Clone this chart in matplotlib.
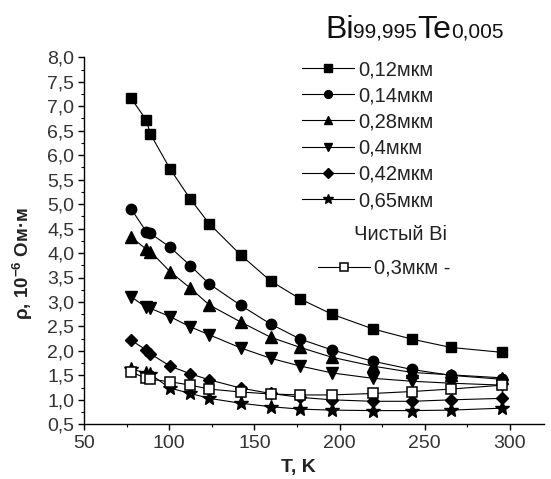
import matplotlib
matplotlib.use("Agg")
import matplotlib.pyplot as plt
from matplotlib.ticker import MultipleLocator, FuncFormatter

plt.rcParams['font.family'] = ['Liberation Sans', 'DejaVu Sans']
plt.rcParams['mathtext.fontset'] = 'custom'
plt.rcParams['mathtext.rm'] = 'Liberation Sans'
plt.rcParams['mathtext.bf'] = 'Liberation Sans:bold'

# ---- data ----
T = [77.5, 86.5, 89, 100.5, 112.5, 123.5, 142, 159.5, 177, 195.5, 219.5, 242.5, 265.5, 295.5]
rho_012 = [7.17, 6.72, 6.43, 5.72, 5.10, 4.60, 3.96, 3.43, 3.06, 2.75, 2.45, 2.24, 2.07, 1.97]
rho_014 = [4.91, 4.44, 4.40, 4.12, 3.74, 3.37, 2.93, 2.55, 2.24, 2.02, 1.79, 1.62, 1.50, 1.42]
rho_028 = [4.33, 4.08, 4.03, 3.62, 3.28, 2.94, 2.59, 2.28, 2.07, 1.87, 1.69, 1.56, 1.51, 1.45]
rho_040 = [3.11, 2.89, 2.87, 2.70, 2.49, 2.33, 2.06, 1.85, 1.69, 1.55, 1.44, 1.38, 1.34, 1.30]
rho_042 = [2.22, 2.02, 1.94, 1.69, 1.53, 1.41, 1.24, 1.13, 1.05, 1.00, 0.97, 0.97, 1.00, 1.03]
rho_065 = [1.63, 1.55, 1.52, 1.24, 1.13, 1.03, 0.93, 0.86, 0.81, 0.79, 0.78, 0.78, 0.79, 0.83]
rho_bi03 = [1.57, 1.44, 1.42, 1.37, 1.30, 1.22, 1.16, 1.12, 1.10, 1.10, 1.13, 1.17, 1.22, 1.30]

labels = ['0,12мкм', '0,14мкм', '0,28мкм', '0,4мкм', '0,42мкм', '0,65мкм']
bi_label = '0,3мкм -'
series = [rho_012, rho_014, rho_028, rho_040, rho_042, rho_065]
markers = ['s', 'o', '^', 'v', 'D', '*']
msizes = [7, 7.5, 8, 8, 6.5, 10]

W, H = 551, 479
fig = plt.figure(figsize=(W / 100, H / 100), dpi=100)
ax = fig.add_axes([84 / W, (H - 424.3) / H, (544 - 84) / W, (424.3 - 57.3) / H])

handles = []
for ys, m, ms, lab in zip(series, markers, msizes, labels):
    h, = ax.plot(T, ys, color='black', lw=0.8, marker=m, ms=ms,
                 mfc='black', mec='black', label=lab)
    handles.append(h)
hb, = ax.plot(T, rho_bi03, color='black', lw=0.8, marker='s', ms=7,
              mfc='white', mec='black', mew=1.1, label=bi_label)

ax.set_xlim(50, 320)
ax.set_ylim(0.5, 8.0)
ax.xaxis.set_major_locator(MultipleLocator(50))
ax.xaxis.set_minor_locator(MultipleLocator(25))
ax.yaxis.set_major_locator(MultipleLocator(0.5))
ax.yaxis.set_minor_locator(MultipleLocator(0.25))
ax.yaxis.set_major_formatter(FuncFormatter(lambda v, p: f'{v:.1f}'.replace('.', ',')))
ax.xaxis.set_major_formatter(FuncFormatter(lambda v, p: f'{v:.0f}'))

for s in ['top', 'right']:
    ax.spines[s].set_visible(False)
for s in ['left', 'bottom']:
    ax.spines[s].set_linewidth(1.0)

ax.tick_params(which='major', direction='out', length=4, width=1, labelsize=14,
               labelcolor='#333333')
ax.tick_params(which='minor', direction='out', length=2.5, width=0.8)
ax.tick_params(axis='y', pad=3)
ax.tick_params(axis='x', pad=4)

ax.set_xlabel('T, K', fontsize=14, fontweight='bold', color='#222222')
ax.xaxis.set_label_coords((298 - 84) / (544 - 84), -0.095)
ax.set_ylabel(r'ρ, 10$^{\mathbf{-6}}$ Ом·м', fontsize=13.5, fontweight='bold', color='#222222')
ax.yaxis.set_label_coords(-(84 - 35) / (544 - 84), (424.3 - 264) / (424.3 - 57.3))

leg1 = ax.legend(handles=handles, loc='upper left',
                 bbox_to_anchor=(302 / W, (H - 60) / H), bbox_transform=fig.transFigure,
                 frameon=False, fontsize=14.5, handlelength=2.6, handletextpad=0.2,
                 labelspacing=0.36, borderpad=0, borderaxespad=0, markerscale=0.75,
                 labelcolor='#222222')
ax.add_artist(leg1)
fig.text(401 / W, (H - 235) / H, 'Чистый Bi', fontsize=14.5, ha='center', va='center',
         color='#222222')
leg2 = ax.legend(handles=[hb], loc='upper left',
                 bbox_to_anchor=(318 / W, (H - 259) / H), bbox_transform=fig.transFigure,
                 frameon=False, fontsize=14.5, handlelength=2.6, handletextpad=0.2,
                 borderpad=0, borderaxespad=0, markerscale=0.75, labelcolor='#222222')

# title with inline subscripts
renderer = fig.canvas.get_renderer()
x = 325
yb = (H - 38) / H
for txt, size in [('Bi', 23), ('99,995', 15), ('Te', 23), ('0,005', 15)]:
    t = fig.text(x / W, yb, txt, fontsize=size, va='baseline', ha='left', color='#111111')
    bb = t.get_window_extent(renderer)
    x = bb.x1

fig.savefig('out.png', dpi=100)
